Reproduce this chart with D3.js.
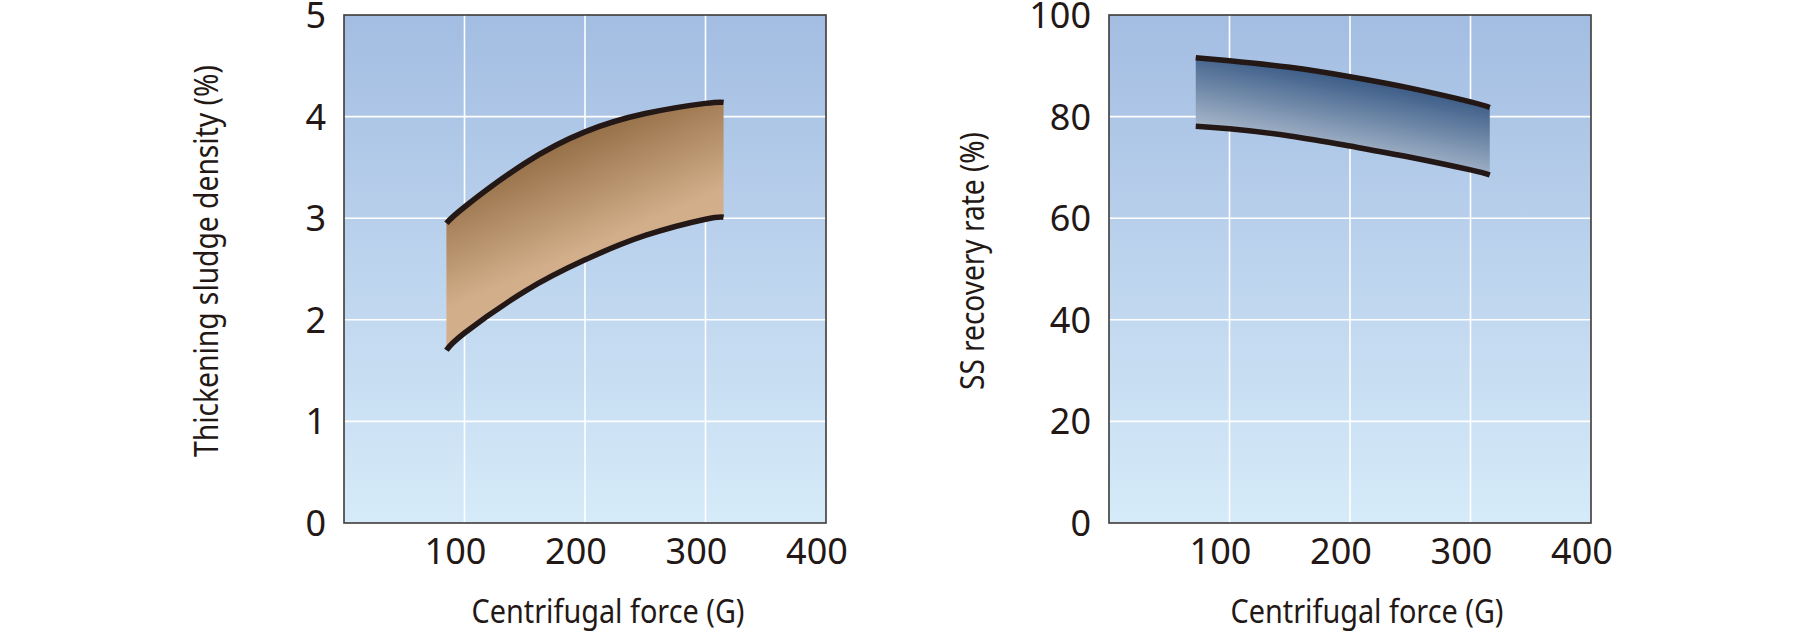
<!DOCTYPE html>
<html>
<head>
<meta charset="utf-8">
<script src="https://cdn.jsdelivr.net/npm/d3@7"></script>
<style>
html,body{margin:0;padding:0;background:#fff;}
svg{display:block;}
text{font-family:"Noto Sans","Open Sans",sans-serif;fill:#231815;}
</style>
</head>
<body>
<svg id="chart" width="1800" height="634"></svg>
<script>
// ---- data ----
const xTicks = [100, 200, 300, 400];

const densityX     = [85, 100, 150, 200, 250, 300, 315];
const densityUpper = [2.95, 3.11, 3.54, 3.85, 4.03, 4.13, 4.14];
const densityLower = [1.70, 1.87, 2.28, 2.59, 2.83, 2.99, 3.01];
const densityTicks = [0, 1, 2, 3, 4, 5];

const recoveryX     = [72, 100, 150, 200, 250, 300, 316];
const recoveryUpper = [91.6, 91.0, 89.7, 87.85, 85.6, 82.9, 81.8];
const recoveryLower = [78.1, 77.6, 76.2, 74.2, 72.0, 69.5, 68.5];
const recoveryTicks = [0, 20, 40, 60, 80, 100];

const xTitle = "Centrifugal force (G)";
const leftTitle = "Thickening sludge density (%)";
const rightTitle = "SS recovery rate (%)";

// ---- drawing ----
const svg = d3.select("#chart");
const defs = svg.append("defs");

const bg = defs.append("linearGradient").attr("id","bg")
  .attr("x1",0).attr("y1",0).attr("x2",0).attr("y2",1);
bg.append("stop").attr("offset",0).attr("stop-color","#a3bde2");
bg.append("stop").attr("offset",1).attr("stop-color","#d6ebf9");

function panel(opts){
  const {left, top, width, height, yMax, yTicks, xs, up, lo, gradId, gradStops, gradVec,
         title, titleX, titleLen, xTitleX} = opts;
  const x = d3.scaleLinear().domain([0,400]).range([left, left+width]);
  const y = d3.scaleLinear().domain([0,yMax]).range([top+height, top]);
  const g = svg.append("g");

  g.append("rect").attr("x",left).attr("y",top).attr("width",width).attr("height",height)
    .attr("fill","url(#bg)");

  // grid
  g.selectAll(".gx").data(xTicks.filter(t=>t<400)).join("line")
    .attr("x1",d=>x(d)).attr("x2",d=>x(d)).attr("y1",top).attr("y2",top+height)
    .attr("stroke","#ffffff").attr("stroke-width",1.6);
  g.selectAll(".gy").data(yTicks.filter(t=>t>0 && t<yMax)).join("line")
    .attr("x1",left).attr("x2",left+width).attr("y1",d=>y(d)).attr("y2",d=>y(d))
    .attr("stroke","#ffffff").attr("stroke-width",1.6);

  // band gradient
  const gr = defs.append("linearGradient").attr("id",gradId)
    .attr("gradientUnits","userSpaceOnUse")
    .attr("x1",gradVec[0]).attr("y1",gradVec[1]).attr("x2",gradVec[2]).attr("y2",gradVec[3]);
  gradStops.forEach(s=>gr.append("stop").attr("offset",s[0]).attr("stop-color",s[1]));

  const pts = xs.map((v,i)=>({x:v, u:up[i], l:lo[i]}));
  const curve = d3.curveNatural;
  g.append("path").datum(pts)
    .attr("d", d3.area().curve(curve).x(d=>x(d.x)).y0(d=>y(d.l)).y1(d=>y(d.u)))
    .attr("fill",`url(#${gradId})`);
  ["u","l"].forEach(k=>{
    g.append("path").datum(pts)
      .attr("d", d3.line().curve(curve).x(d=>x(d.x)).y(d=>y(d[k])))
      .attr("fill","none").attr("stroke","#231815").attr("stroke-width",5.5)
      .attr("stroke-linecap","butt");
  });

  // frame
  g.append("rect").attr("x",left).attr("y",top).attr("width",width).attr("height",height)
    .attr("fill","none").attr("stroke","#3e3a39").attr("stroke-width",1.6);

  // y ticks
  g.selectAll(".yt").data(yTicks).join("text")
    .attr("x", left-18).attr("y", d=>y(d)).attr("dy","0.36em")
    .attr("text-anchor","end").attr("font-size",36).text(d=>d);
  // x ticks
  g.selectAll(".xt").data(xTicks).join("text")
    .attr("x", d=>x(d)-9).attr("y", top+height+41)
    .attr("text-anchor","middle").attr("font-size",36).text(d=>d);

  // x title
  g.append("text").attr("x", xTitleX).attr("y", 623)
    .attr("text-anchor","middle").attr("font-size",33)
    .attr("textLength",273).attr("lengthAdjust","spacingAndGlyphs").text(xTitle);
  // y title
  g.append("text").attr("transform",`translate(${titleX},${top+height/2-8}) rotate(-90)`)
    .attr("text-anchor","middle").attr("font-size",32)
    .attr("textLength",titleLen).attr("lengthAdjust","spacingAndGlyphs").text(title);
}

panel({left:344, top:15, width:482, height:508, yMax:5, yTicks:densityTicks,
  xs:densityX, up:densityUpper, lo:densityLower, gradId:"brown",
  gradStops:[[0,"#89623a"],[1,"#d2af8a"]], gradVec:[560,118,612,238],
  title:leftTitle, titleX:218, titleLen:392, xTitleX:608});

panel({left:1109, top:15, width:482, height:508, yMax:100, yTicks:recoveryTicks,
  xs:recoveryX, up:recoveryUpper, lo:recoveryLower, gradId:"blue",
  gradStops:[[0,"#41618b"],[1,"#adbcce"]], gradVec:[1342,80,1328,155],
  title:rightTitle, titleX:984, titleLen:258, xTitleX:1367});
</script>
</body>
</html>
